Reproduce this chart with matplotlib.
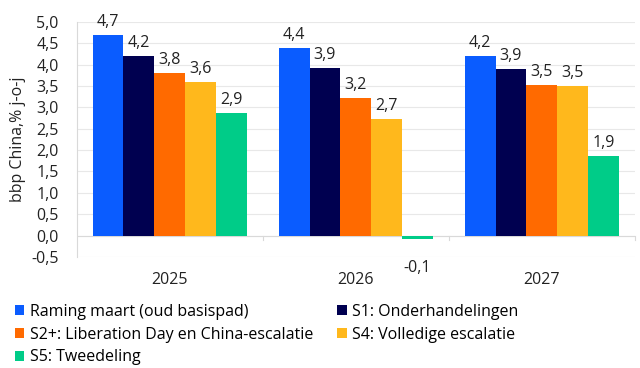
import matplotlib
matplotlib.use("Agg")
import matplotlib.pyplot as plt
import numpy as np

plt.rcParams['font.family'] = ['Open Sans', 'DejaVu Sans']

years = ['2025', '2026', '2027']
series = ['Raming maart (oud basispad)', 'S1: Onderhandelingen',
          'S2+: Liberation Day en China-escalatie', 'S4: Volledige escalatie',
          'S5: Tweedeling']
raming = [4.70, 4.40, 4.20]
s1 = [4.20, 3.92, 3.90]
s2 = [3.80, 3.22, 3.52]
s4 = [3.60, 2.72, 3.50]
s5 = [2.87, -0.08, 1.86]
colors = ['#0A5CFF', '#000050', '#FF6A00', '#FFB81C', '#00CC88']
yticks = [-0.5, 0, 0.5, 1, 1.5, 2, 2.5, 3, 3.5, 4, 4.5, 5]

fig = plt.figure(figsize=(6.4, 3.68), dpi=100)
ax = fig.add_axes([0.12, 0.302, 0.872, 0.638])

x = np.arange(len(years))
width = 0.166
for i, vals in enumerate([raming, s1, s2, s4, s5]):
    pos = x + (i - 2) * width
    ax.bar(pos, vals, width, color=colors[i], label=series[i], zorder=3)
    for p, v in zip(pos, vals):
        lab = f"{v:.1f}".replace('.', ',')
        if v >= 0:
            ax.text(p, v + 0.12, lab, ha='center', va='bottom', fontsize=11.5, color='#222222')
        else:
            ax.text(p, v - 0.5, lab, ha='center', va='top', fontsize=11.5, color='#222222')

ax.set_xlim(-0.5, 2.5)
ax.set_ylim(-0.5, 5.0)
ax.set_yticks(yticks)
ax.set_yticklabels([f"{t:.1f}".replace('.', ',') for t in yticks], fontsize=11.5, color='#222222')
ax.set_xticks(x)
ax.set_xticklabels(years, fontsize=11.5, color='#222222')
ax.tick_params(axis='x', length=0, pad=11)
ax.tick_params(axis='y', length=0, pad=13)
ax.grid(axis='y', color='#E8E8E8', linewidth=0.8, zorder=0)
for s in ['top', 'right', 'bottom']:
    ax.spines[s].set_visible(False)
ax.spines['left'].set_color('#D9D9D9')
ax.axhline(0, color='#D9D9D9', linewidth=0.8, zorder=2)
for b in [0.5, 1.5, 2.5]:
    ax.plot([b, b], [0, -0.1], color='#D9D9D9', linewidth=0.8, clip_on=False, zorder=2)
ax.set_ylabel('bbp China,% j-o-j', fontsize=11.5, color='#222222', labelpad=4)

handles, labels = ax.get_legend_handles_labels()
order = [0, 2, 4, 1, 3]
fig.legend([handles[k] for k in order], [labels[k] for k in order],
           loc='upper left', bbox_to_anchor=(0.008, 0.2), ncol=2,
           frameon=False, fontsize=11.5, handlelength=0.6, handleheight=0.6,
           handletextpad=0.35, columnspacing=1.5, labelspacing=0.42, borderpad=0.1)

fig.savefig('out.png', dpi=100)
